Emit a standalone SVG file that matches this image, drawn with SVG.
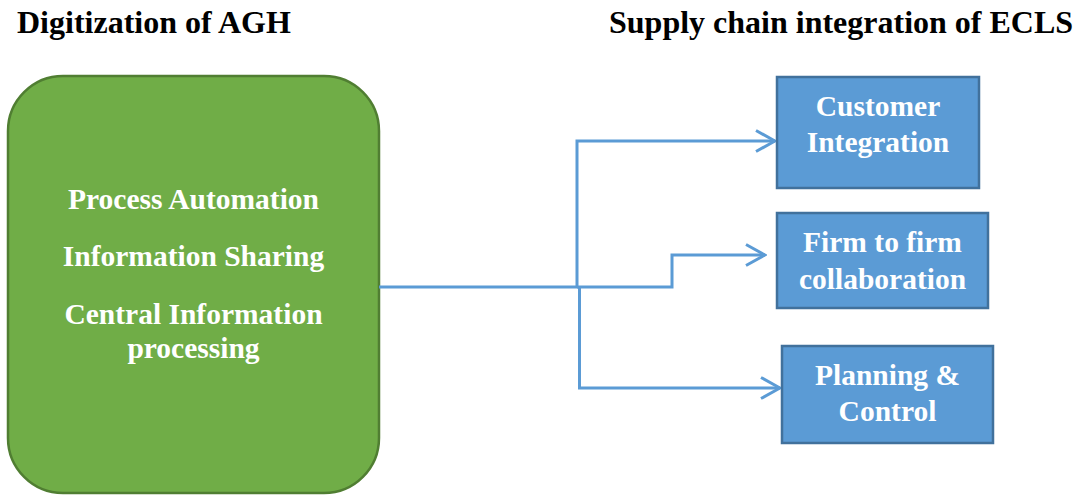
<svg xmlns="http://www.w3.org/2000/svg" width="1078" height="495" viewBox="0 0 1078 495">
<defs>
<style>
.title{font-size:32px;font-weight:bold;fill:#000;}
.lbl{font-size:29.5px;font-weight:bold;fill:#fff;text-anchor:middle;}
.conn{fill:none;stroke:#5B9BD5;stroke-width:3;}
.bbox{fill:#5B9BD5;stroke:#41719C;stroke-width:2.5;}
</style>
<marker id="arr" viewBox="0 0 22 24" refX="20" refY="12" markerWidth="22" markerHeight="24" markerUnits="userSpaceOnUse" orient="auto">
<path d="M1,1.5 L20,12 L1,22.5" fill="none" stroke="#5B9BD5" stroke-width="3"/>
</marker>
</defs>
<rect width="1078" height="495" fill="#fff"/>
<g font-family="Liberation Serif">
<text class="title" x="17" y="33">Digitization of AGH</text>
<text class="title" x="609" y="33">Supply chain integration of ECLS</text>
<g id="digitization">
<rect x="8" y="76" width="371" height="417" rx="55" ry="55" fill="#70AD47" stroke="#507E32" stroke-width="2.5"/>
<text class="lbl" x="193.5" y="208.5">Process Automation</text>
<text class="lbl" x="193.5" y="265.5">Information Sharing</text>
<text class="lbl" x="193.5" y="323.5">Central Information</text>
<text class="lbl" x="193.5" y="358">processing</text>
</g>
<g id="connectors">
<path class="conn" d="M379,287 L577,287 L577,141 L775,141" marker-end="url(#arr)"/>
<path class="conn" d="M577,287 L672,287 L672,255 L765,255" marker-end="url(#arr)"/>
<path class="conn" d="M579.5,287 L579.5,388 L780,388" marker-end="url(#arr)"/>
</g>
<g id="customer">
<rect class="bbox" x="777" y="77" width="202" height="111"/>
<text class="lbl" x="878" y="116">Customer</text>
<text class="lbl" x="878" y="152">Integration</text>
</g>
<g id="firm">
<rect class="bbox" x="777" y="213" width="211" height="95"/>
<text class="lbl" x="882.5" y="252">Firm to firm</text>
<text class="lbl" x="882.5" y="288.5">collaboration</text>
</g>
<g id="planning">
<rect class="bbox" x="782" y="346" width="211" height="97"/>
<text class="lbl" x="887.5" y="385">Planning &amp;</text>
<text class="lbl" x="887.5" y="421">Control</text>
</g>
</g>
</svg>
